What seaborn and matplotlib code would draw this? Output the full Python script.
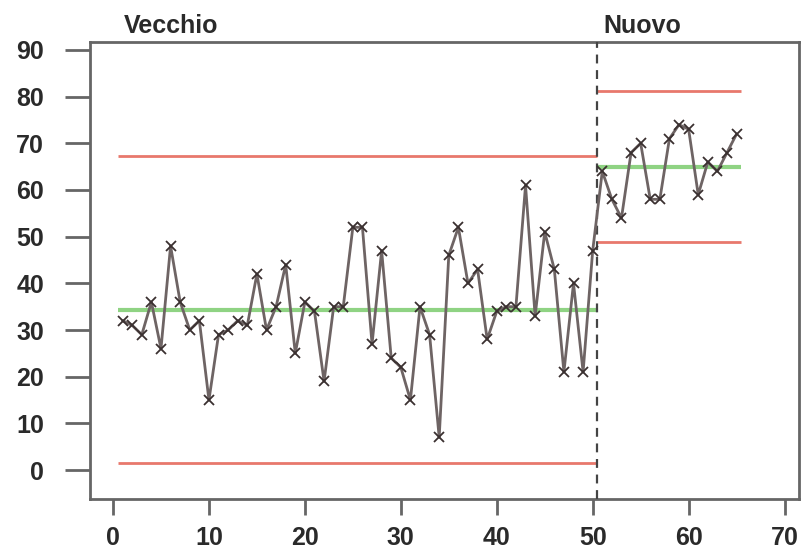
import matplotlib
matplotlib.use("Agg")
import matplotlib.pyplot as plt
import matplotlib.transforms as mtransforms
import seaborn as sns
import pandas as pd

# ---- data ----
old_values = [32, 31, 29, 36, 26, 48, 36, 30, 32, 15,
              29, 30, 32, 31, 42, 30, 35, 44, 25, 36,
              34, 19, 35, 35, 52, 52, 27, 47, 24, 22,
              15, 35, 29, 7, 46, 52, 40, 43, 28, 34,
              35, 35, 61, 33, 51, 43, 21, 40, 21, 47]
new_values = [64, 58, 54, 68, 70, 58, 58, 71, 74, 73,
              59, 66, 64, 68, 72]
phase_labels = ["Vecchio", "Nuovo"]
phase_start = [0.5, 50.5]
phase_end = [50.5, 65.5]
center_line = [34.2, 65.0]
upper_limit = [67.2, 81.2]
lower_limit = [1.6, 48.8]
x_ticks = [0, 10, 20, 30, 40, 50, 60, 70]
y_ticks = [0, 10, 20, 30, 40, 50, 60, 70, 80, 90]

values = old_values + new_values
df = pd.DataFrame({"obs": range(1, len(values) + 1), "value": values})

sns.set_theme(style="white")
plt.rcParams["font.family"] = ["Liberation Sans", "DejaVu Sans"]

fig = plt.figure(figsize=(8.02, 5.49), dpi=100)
ax = fig.add_axes([0.1122, 0.0911, 0.884, 0.8324])

# control limits
for s, e, c, u, l in zip(phase_start, phase_end, center_line, upper_limit, lower_limit):
    ax.hlines([u, l], s, e, colors="#e8786c", linewidth=2.0, zorder=2)
    ax.hlines(c, s, e, colors="#8fd383", linewidth=3.0, zorder=2)

# phase separator
ax.axvline(phase_end[0], color="#444444", linestyle=(0, (4, 3)), linewidth=1.6, zorder=3)

sns.lineplot(data=df, x="obs", y="value", ax=ax, color="#6e6464",
             linewidth=2.0, marker="x", markersize=7, markeredgewidth=1.3,
             markeredgecolor="#3a3030", zorder=4)

ax.set_xlim(-2.4, 71.5)
ax.set_ylim(-6.2, 91.7)
ax.set_xticks(x_ticks)
ax.set_yticks(y_ticks)
ax.set_xlabel("")
ax.set_ylabel("")

for sp in ax.spines.values():
    sp.set_color("#666666")
    sp.set_linewidth(2.0)

ax.tick_params(axis="both", which="both", direction="out",
               width=2.0, color="#666666", labelsize=18, labelcolor="#2a2a2a")
ax.tick_params(axis="x", length=11.5, pad=8)
ax.tick_params(axis="y", length=18, pad=15)
for lab in ax.get_xticklabels() + ax.get_yticklabels():
    lab.set_fontweight("bold")
ax.xaxis.set_ticks_position("bottom")
ax.yaxis.set_ticks_position("left")

trans = mtransforms.blended_transform_factory(ax.transData, ax.transAxes)
for s, lab in zip(phase_start, phase_labels):
    ax.text(s + 0.6, 1.008, lab, transform=trans, ha="left", va="bottom",
            fontsize=18, fontweight="bold", color="#2a2a2a")

fig.savefig("out.png", dpi=100)
